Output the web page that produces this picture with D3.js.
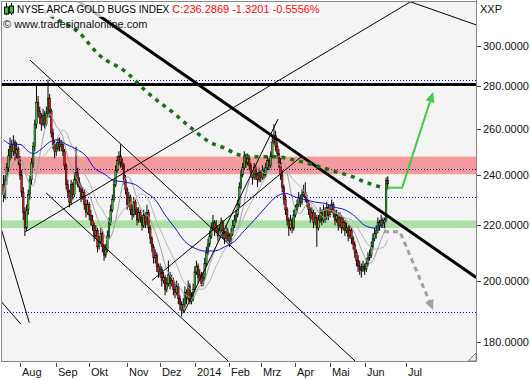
<!DOCTYPE html>
<html>
<head>
<meta charset="utf-8">
<script src="https://cdnjs.cloudflare.com/ajax/libs/d3/7.8.5/d3.min.js"></script>
<style>
	body{ margin:0; background:#fff; }
	text{ font-family:"Liberation Sans", Arial, sans-serif; }
</style>
</head>
<body>
<div id="chart"></div>
<script>
// daily bars, NYSE Arca Gold Bugs (HUI), starting 2013-07-18
var opens = [236,231,238,243,248,253,250,254,249,251,
	246,240,233,225,219,226,232,238,245,252,
	262,272,268,265,262,266,262,267,274,268,
	258,253,250,251,254,252,253,250,244,236,
	233,229,236,232,238,241,237,235,231,233,
	228,225,228,224,222,220,216,218,212,214,
	217,212,209,211,216,221,226,230,236,242,
	246,248,245,244,238,234,228,231,226,224,
	229,226,222,225,223,220,224,221,225,219,
	215,212,208,209,205,203,204,200,201,197,
	199,202,199,200,197,196,198,194,192,190,
	192,196,194,198,193,194,197,203,205,201,
	202,199,201,206,210,213,216,219,221,218,
	219,216,218,221,217,215,218,216,214,217,
	220,222,224,228,235,240,243,248,245,247,
	244,241,239,243,240,238,241,239,242,240,
	243,246,244,248,254,257,252,249,245,240,
	235,230,226,222,219,222,219,224,226,228,
	231,229,232,233,231,229,226,223,225,221,
	223,219,222,225,222,226,223,227,224,226,
	228,225,222,224,220,223,219,221,218,219,
	216,218,215,213,210,207,205,204,203.5,205,
	204,206,208,209,212,215,217,218,221,220,
	222,221,222,237.61];
var highs = [240,240,245,251,256,255,257,255,254,252,
	248,242,235,227,228,234,240,247,254,264,
	281,275,270,267,269,268,270,283,276,269,
	260,255,254,256,256,255,254,251,245,238,
	234,238,237,241,252,243,239,236,235,234,
	230,230,229,226,224,221,220,219,216,219,
	218,213,213,218,223,228,232,238,244,248,
	250,253,247,245,240,235,233,232,228,231,
	230,227,227,226,224,226,225,228,226,220,
	216,213,211,210,206,206,205,203,202,201,
	207,203,202,201,199,200,199,195,193,194,
	198,197,200,199,196,199,205,207,206,204,
	203,203,208,212,215,218,221,224,222,222,
	220,220,223,222,218,220,219,217,219,222,
	224,226,230,237,242,245,250,249,249,248,
	245,242,245,244,241,243,242,244,243,245,
	248,247,250,256,262,259,254,251,247,242,
	236,232,227,223,224,223,226,228,230,233,
	232,234,236,237,232,230,227,227,226,225,
	224,224,227,226,228,227,229,228,228,230,
	229,226,226,225,225,224,223,222,221,220,
	220,219,216,214,211,209,207,206,207,206,
	208,210,211,214,217,219,220,223,222,224,
	223,223,239,239.5];
var lows = [229,230,236,241,246,247,248,246,247,244,
	238,231,222,216,218,224,230,236,243,250,
	260,265,262,259,261,260,261,265,265,256,
	251,247,248,250,250,250,248,242,234,231,
	227,228,230,231,236,235,233,229,230,226,
	223,224,222,220,218,214,215,210,211,213,
	210,207,208,210,215,220,225,229,235,241,
	244,243,242,236,232,226,227,224,222,223,
	224,220,221,221,218,219,219,220,217,213,
	210,206,206,203,201,201,198,199,195,196,
	198,197,198,195,194,195,192,190,188,189,
	191,192,193,192,192,193,196,202,199,200,
	198,198,200,205,209,212,215,218,216,217,
	214,215,217,215,213,214,214,212,213,216,
	219,221,223,227,234,239,242,243,244,242,
	239,236,238,238,235,237,237,238,238,239,
	242,242,243,247,253,250,247,243,238,233,
	228,224,220,216,218,217,218,223,225,227,
	227,228,231,229,227,224,221,222,219,220,
	212,218,221,220,221,221,222,222,223,225,
	223,220,221,218,219,217,218,216,217,214,
	215,213,211,208,205,203,202,201,203,202,
	203,205,207,208,211,214,215,217,218,219,
	219,219,221,234];
var closes = [232,238,243,248,252,250,253,249,251,246,
	240,233,225,219,226,232,238,245,252,262,
	272,268,265,262,266,262,267,274,268,258,
	253,250,251,254,252,253,250,244,236,233,
	229,236,232,238,241,237,235,231,233,228,
	225,228,224,222,220,216,218,212,214,217,
	212,209,211,216,221,226,230,236,242,246,
	248,245,244,238,234,228,231,226,224,229,
	226,222,225,223,220,224,221,225,219,215,
	212,208,209,205,203,204,200,201,197,199,
	202,199,200,197,196,198,194,192,190,192,
	196,194,198,193,194,197,203,205,201,202,
	199,201,206,210,213,216,219,221,218,219,
	216,218,221,217,215,218,216,214,217,220,
	222,224,228,235,240,243,248,245,247,244,
	241,239,243,240,238,241,239,242,240,243,
	246,244,248,254,257,252,249,245,240,235,
	230,226,222,219,222,219,224,226,228,231,
	229,232,233,231,229,226,223,225,221,223,
	219,222,225,222,226,223,227,224,226,228,
	225,222,224,220,223,219,221,218,219,216,
	218,215,213,210,207,205,204,203.5,205,204,
	206,208,209,212,215,217,218,221,220,222,
	221,222,237.61,236.29];

var firstDate = "2013-07-18";
var lastDate = "2014-07-31";
var holidays = ["2013-09-02","2013-11-28","2013-12-25","2014-01-01","2014-01-20",
	"2014-02-17","2014-04-18","2014-05-26"];
var monthNames = ["Jan","Feb","Mrz","Apr","Mai","Jun","Jul","Aug","Sep","Okt","Nov","Dez"];
var priceTicks = [180,200,220,240,260,280,300];

// blue moving average, read at bar positions
var blueIdx = [0,5,10,15,18,23,28,33,38,44,50,55,62,66,74,80,86,92,98,104,110,116,122,128,134,140,146,152,159,165,171,177,183,189,195,201,207,213,219,225,231];
var bluePx = [255,253,253,250,249,251,254,255,253,251,248,243,240,238,237,236,233,230,224,219,214,211.5,210.5,210.5,212,214,218,222,227,231,232.5,231,230,229,228.5,227,226,223.5,220,219,221];
// long dashed average (dark green)
var longIdx = [20,28,46,58,75,87,103,116,125,134,143,154,166,176,186,194,202,212,216,224,230];
var longPx = [322,316.3,306.6,295.2,286.2,276.9,267.1,258.9,254,251.4,248.4,247.6,247.6,246.3,244.6,242.9,241.2,239.2,238,236,234.8];

var resistance = 280.5;
var dottedLevels = [282.8,242.3,231,189.3];
var redZone = [240.3,247.7];
var greenZone = [219,221.9];
var thickTrend = [43.4,325.1,286.6,201.1];
// thin lines as [bar1, price1, bar2, price2]
var thinTrends = [
	[16.1,292.6,213.2,174.1],
	[25.8,232.7,136.2,174.1],
	[13.06,217.5,246.5,323.4],
	[243.5,324.6,286.6,310.9],
	[109.5,189.4,166.5,264.3],
	[90.1,200.1,180.4,247.6],
	[-2.1,220.2,15.66,186.0],
	[-5.14,195.3,10.45,185.6]
];
var upArrow = [[233,234.8],[241.7,234.8],[260.5,276.9]];
var downArrow = [[230.7,217.6],[240.4,217.6],[260.5,190.1]];

var width = 530, height = 380;
var plot = {left:1, right:476, top:1, bottom:361};

var svg = d3.select("#chart").append("svg")
	.attr("width", width)
	.attr("height", height);

var x = d3.scaleLinear().domain([-1.5, 286.5]).range([plot.left, plot.right]);
var y = d3.scaleLog().domain([174.1, 324]).range([plot.bottom, plot.top]);

// bar dates: trading days, then calendar days in the empty future area
var parse = d3.utcParse("%Y-%m-%d"), fmt = d3.utcFormat("%Y-%m-%d");
var holidaySet = new Set(holidays);
var dates = [];
var day = parse(firstDate), end = parse(lastDate);
while(dates.length < closes.length){
	var wd = day.getUTCDay();
	if(wd !== 0 && wd !== 6 && !holidaySet.has(fmt(day))) dates.push(day);
	day = d3.utcDay.offset(day, 1);
}
while(day <= end){
	dates.push(day);
	day = d3.utcDay.offset(day, 1);
}

svg.append("defs").append("clipPath").attr("id", "clip")
	.append("rect")
		.attr("x", plot.left).attr("y", plot.top)
		.attr("width", plot.right - plot.left).attr("height", plot.bottom - plot.top);

svg.append("rect")
	.attr("x", plot.left).attr("y", plot.top)
	.attr("width", plot.right - plot.left).attr("height", plot.bottom - plot.top)
	.attr("fill", "#f4f4f4");

var g = svg.append("g").attr("clip-path", "url(#clip)");

// zones
[[redZone, "#f59a9a"], [greenZone, "#abe2a4"]].forEach(function(z){
	g.append("rect")
		.attr("x", plot.left).attr("width", plot.right - plot.left)
		.attr("y", y(z[0][1])).attr("height", y(z[0][0]) - y(z[0][1]))
		.attr("fill", z[1]);
});

g.selectAll("line.dotted")
		.data(dottedLevels)
	.enter().append("line")
		.attr("class", "dotted")
		.attr("x1", plot.left).attr("x2", plot.right)
		.attr("y1", function(d){ return Math.round(y(d)) + 0.5; })
		.attr("y2", function(d){ return Math.round(y(d)) + 0.5; })
		.attr("stroke", "#0000cc")
		.attr("stroke-dasharray", "1,2");

g.append("line")
	.attr("x1", plot.left).attr("x2", plot.right)
	.attr("y1", y(resistance)).attr("y2", y(resistance))
	.attr("stroke", "#000").attr("stroke-width", 3);

// candles
var bars = d3.range(closes.length).map(function(i){
	return {i:i, o:opens[i], h:highs[i], l:lows[i], c:closes[i]};
});

var candle = g.append("g").selectAll("g")
		.data(bars)
	.enter().append("g");

candle.append("line")
	.attr("x1", function(d){ return x(d.i); })
	.attr("x2", function(d){ return x(d.i); })
	.attr("y1", function(d){ return y(d.h); })
	.attr("y2", function(d){ return y(d.l); })
	.attr("stroke", "#000")
	.attr("stroke-width", 1);

candle.append("rect")
	.attr("x", function(d){ return x(d.i) - 0.8; })
	.attr("width", 1.6)
	.attr("y", function(d){ return y(Math.max(d.o, d.c)); })
	.attr("height", function(d){ return Math.max(1, y(Math.min(d.o, d.c)) - y(Math.max(d.o, d.c))); })
	.attr("fill", function(d){ return d.c >= d.o ? "#2ec82e" : "#f01010"; })
	.attr("stroke", "#000")
	.attr("stroke-width", 0.5);

// short averages from the closes
function sma(n){
	return closes.map(function(c, i){
		return [i, d3.mean(closes.slice(Math.max(0, i - n + 1), i + 1))];
	});
}
var line = d3.line()
	.x(function(d){ return x(d[0]); })
	.y(function(d){ return y(d[1]); });

g.append("path").datum(sma(20))
	.attr("d", line).attr("fill", "none")
	.attr("stroke", "#b4b4b4").attr("stroke-width", 1);
g.append("path").datum(sma(10))
	.attr("d", line).attr("fill", "none")
	.attr("stroke", "#a0a0a0").attr("stroke-width", 1);

g.append("path").datum(d3.zip(blueIdx, bluePx))
	.attr("d", line.curve(d3.curveMonotoneX)).attr("fill", "none")
	.attr("stroke", "#1010e0").attr("stroke-width", 1);
line.curve(d3.curveLinear);

// trend lines
g.selectAll("line.thin")
		.data(thinTrends)
	.enter().append("line")
		.attr("class", "thin")
		.attr("x1", function(d){ return x(d[0]); })
		.attr("y1", function(d){ return y(d[1]); })
		.attr("x2", function(d){ return x(d[2]); })
		.attr("y2", function(d){ return y(d[3]); })
		.attr("stroke", "#000").attr("stroke-width", 1);

g.append("line")
	.attr("x1", x(thickTrend[0])).attr("y1", y(thickTrend[1]))
	.attr("x2", x(thickTrend[2])).attr("y2", y(thickTrend[3]))
	.attr("stroke", "#000").attr("stroke-width", 3);

g.append("path").datum(d3.zip(longIdx, longPx))
	.attr("d", d3.line().curve(d3.curveMonotoneX)
		.x(function(d){ return x(d[0]); })
		.y(function(d){ return y(d[1]); }))
	.attr("fill", "none")
	.attr("stroke", "#137213").attr("stroke-width", 3.5)
	.attr("stroke-dasharray", "4,5");

// scenario arrows
function arrow(points, color, dash, w){
	var p = points.map(function(d){ return [x(d[0]), y(d[1])]; });
	var a = p[p.length - 2], b = p[p.length - 1];
	var ang = Math.atan2(b[1] - a[1], b[0] - a[0]);
	var len = 10, half = 4.5;
	var base = [b[0] - len * Math.cos(ang), b[1] - len * Math.sin(ang)];
	var shaft = p.slice(0, -1).concat([base]);
	g.append("path")
		.attr("d", d3.line()(shaft))
		.attr("fill", "none")
		.attr("stroke", color).attr("stroke-width", w)
		.attr("stroke-dasharray", dash);
	g.append("path")
		.attr("d", d3.line()([b,
			[base[0] + half * Math.sin(ang), base[1] - half * Math.cos(ang)],
			[base[0] - half * Math.sin(ang), base[1] + half * Math.cos(ang)]]) + "Z")
		.attr("fill", color);
}
arrow(upArrow, "#3fcc3f", null, 2);
arrow(downArrow, "#a0a0a0", "5,4", 3);

// legend
svg.append("rect")
	.attr("x", plot.left + 1).attr("y", plot.top)
	.attr("width", 318).attr("height", 16)
	.attr("fill", "#fff").attr("opacity", 0.75);

var icon = svg.append("g");
[[6, 7, 11], [11, 6, 10]].forEach(function(c){
	icon.append("line")
		.attr("x1", c[0] + 0.5).attr("x2", c[0] + 0.5)
		.attr("y1", 3).attr("y2", 15)
		.attr("stroke", "#000");
	icon.append("rect")
		.attr("x", c[0] - 1.5).attr("y", c[1])
		.attr("width", 4).attr("height", c[2] - c[1] + 3)
		.attr("fill", "#2ec82e").attr("stroke", "#000").attr("stroke-width", 1);
});

var title = svg.append("text")
	.attr("x", 17).attr("y", 13)
	.attr("font-size", 11);
title.append("tspan").attr("font-size", 10).attr("fill", "#000")
	.text("NYSE ARCA GOLD BUGS INDEX");
title.append("tspan").attr("fill", "#ff0000").attr("dx", 3)
	.text("C:236.2869 -1.3201 -0.5556%");

svg.append("text")
	.attr("x", 3).attr("y", 28)
	.attr("font-size", 11).attr("fill", "#111")
	.text("\u00a9 www.tradesignalonline.com");

// frame
svg.append("path")
	.attr("d", "M" + (plot.left + 0.5) + "," + (plot.top) +
		"V" + (plot.bottom + 0.5) + "H" + (plot.right + 0.5) + "V" + 0 +
		"M" + plot.left + "," + (plot.top + 0.5) + "H" + plot.right)
	.attr("fill", "none").attr("stroke", "#888");

// resize grip
svg.append("path")
	.attr("d", "M" + (plot.right - 8) + "," + (plot.bottom) + "L" + plot.right + "," + (plot.bottom - 8) +
		"V" + plot.bottom + "Z")
	.attr("fill", "#fff").attr("stroke", "#777");

// price axis
var yAxis = svg.append("g");
yAxis.selectAll("line")
		.data(priceTicks)
	.enter().append("line")
		.attr("x1", plot.right + 1).attr("x2", plot.right + 5)
		.attr("y1", function(d){ return Math.round(y(d)) + 0.5; })
		.attr("y2", function(d){ return Math.round(y(d)) + 0.5; })
		.attr("stroke", "#444");
yAxis.selectAll("text")
		.data(priceTicks)
	.enter().append("text")
		.attr("x", plot.right + 7)
		.attr("y", function(d){ return y(d); })
		.attr("dy", "0.36em")
		.attr("font-size", 11).attr("fill", "#111")
		.text(function(d){ return d3.format(".4f")(d); });

svg.append("text")
	.attr("x", plot.right + 4).attr("y", 13)
	.attr("font-size", 11).attr("fill", "#111")
	.text("XXP");

// time axis: first bar of each month
var monthStarts = d3.range(1, dates.length).filter(function(i){
	return dates[i].getUTCMonth() !== dates[i - 1].getUTCMonth() && x(i) < plot.right;
});
var xAxis = svg.append("g");
xAxis.selectAll("line")
		.data(monthStarts)
	.enter().append("line")
		.attr("x1", function(i){ return Math.round(x(i)) + 0.5; })
		.attr("x2", function(i){ return Math.round(x(i)) + 0.5; })
		.attr("y1", plot.bottom + 2).attr("y2", plot.bottom + 6)
		.attr("stroke", "#444");
xAxis.selectAll("text")
		.data(monthStarts)
	.enter().append("text")
		.attr("x", function(i){ return Math.round(x(i)) + 2; })
		.attr("y", 376)
		.attr("font-size", 11).attr("fill", "#111")
		.text(function(i){
			var m = dates[i].getUTCMonth();
			return m === 0 ? dates[i].getUTCFullYear() : monthNames[m];
		});
</script>
</body>
</html>
